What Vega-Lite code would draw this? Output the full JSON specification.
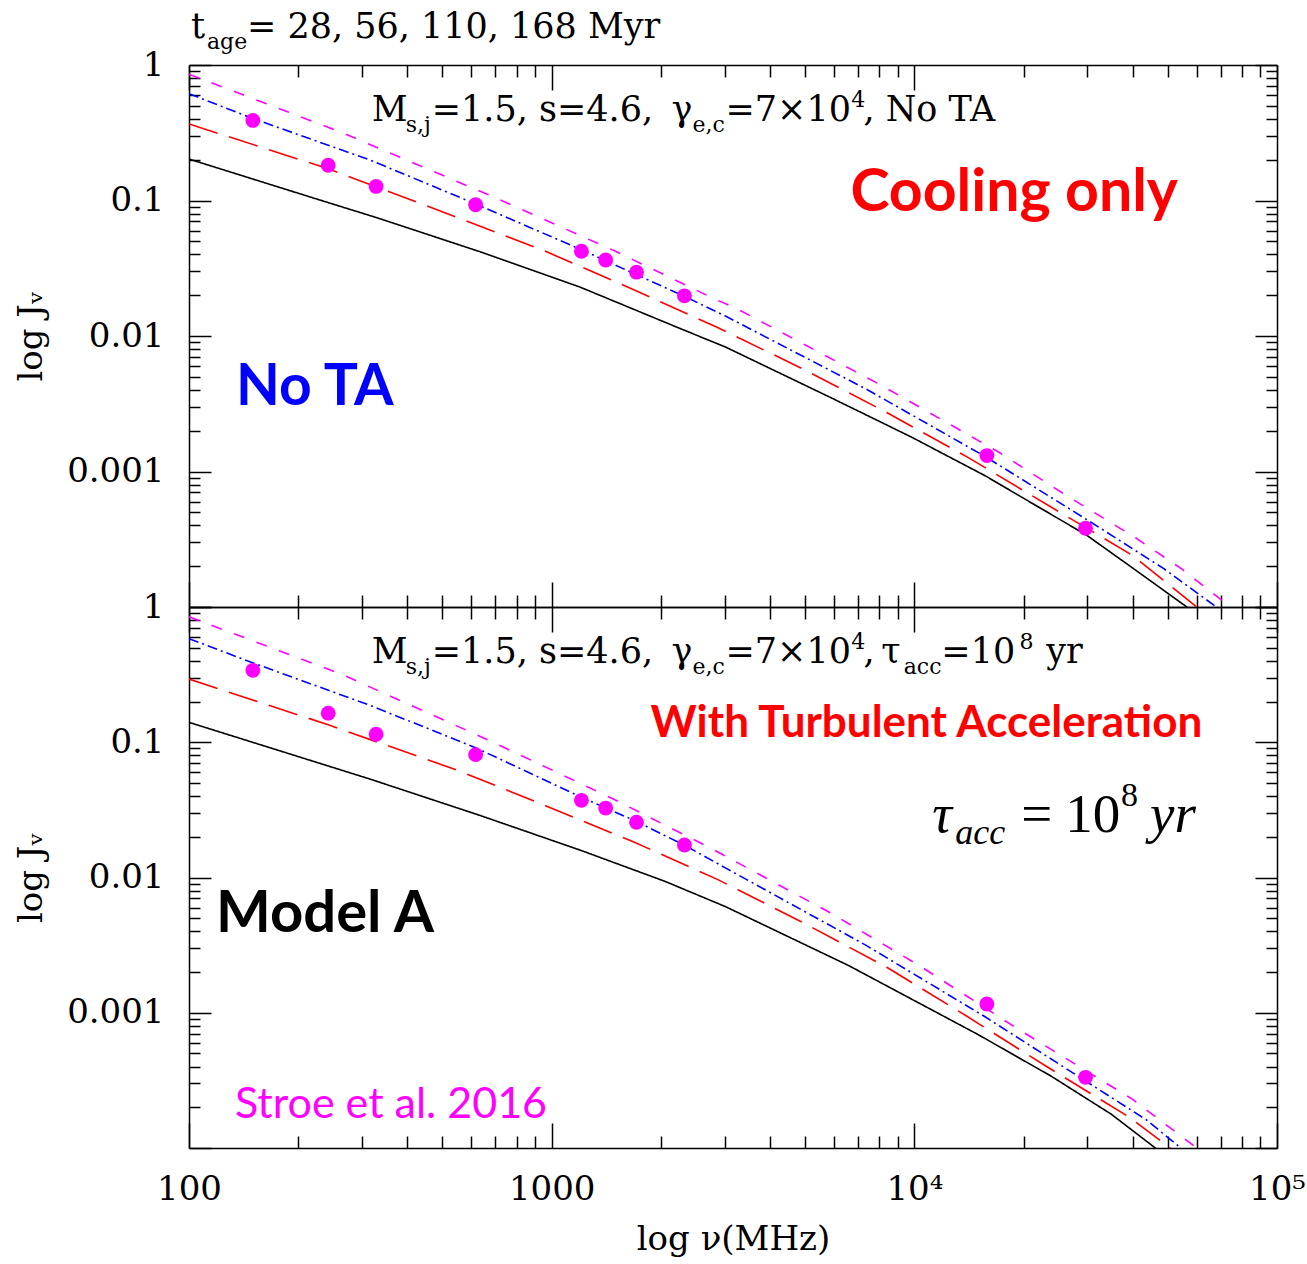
{
  "$schema": "https://vega.github.io/schema/vega-lite/v6.json",
  "background": "white",
  "padding": {"left": 14, "top": 10, "right": 5, "bottom": 5},
  "bounds": "flush",
  "spacing": 0,
  "config": {"view": {"stroke": null}},
  "datasets": {
    "curves": [
      {"panel": "top", "age": "28 Myr", "nu": 100, "J": 0.2023},
      {"panel": "top", "age": "28 Myr", "nu": 231.2, "J": 0.1002},
      {"panel": "top", "age": "28 Myr", "nu": 330.4, "J": 0.0745},
      {"panel": "top", "age": "28 Myr", "nu": 629.5, "J": 0.04217},
      {"panel": "top", "age": "28 Myr", "nu": 1202, "J": 0.02286},
      {"panel": "top", "age": "28 Myr", "nu": 2291, "J": 0.01119},
      {"panel": "top", "age": "28 Myr", "nu": 3013, "J": 0.008299},
      {"panel": "top", "age": "28 Myr", "nu": 5875, "J": 0.003516},
      {"panel": "top", "age": "28 Myr", "nu": 9817, "J": 0.001795},
      {"panel": "top", "age": "28 Myr", "nu": 15670, "J": 0.000931},
      {"panel": "top", "age": "28 Myr", "nu": 29850, "J": 0.000339},
      {"panel": "top", "age": "28 Myr", "nu": 38990, "J": 0.0002037},
      {"panel": "top", "age": "28 Myr", "nu": 56890, "J": 0.0000984},
      {"panel": "top", "age": "56 Myr", "nu": 100, "J": 0.3673},
      {"panel": "top", "age": "56 Myr", "nu": 242.1, "J": 0.1714},
      {"panel": "top", "age": "56 Myr", "nu": 544.5, "J": 0.07568},
      {"panel": "top", "age": "56 Myr", "nu": 961.6, "J": 0.04217},
      {"panel": "top", "age": "56 Myr", "nu": 1660, "J": 0.02234},
      {"panel": "top", "age": "56 Myr", "nu": 2858, "J": 0.01159},
      {"panel": "top", "age": "56 Myr", "nu": 4920, "J": 0.005728},
      {"panel": "top", "age": "56 Myr", "nu": 8395, "J": 0.002723},
      {"panel": "top", "age": "56 Myr", "nu": 14160, "J": 0.001256},
      {"panel": "top", "age": "56 Myr", "nu": 23880, "J": 0.0005445},
      {"panel": "top", "age": "56 Myr", "nu": 39900, "J": 0.000241},
      {"panel": "top", "age": "56 Myr", "nu": 60120, "J": 0.0000998},
      {"panel": "top", "age": "110 Myr", "nu": 100, "J": 0.6138},
      {"panel": "top", "age": "110 Myr", "nu": 150, "J": 0.4027},
      {"panel": "top", "age": "110 Myr", "nu": 316.2, "J": 0.1986},
      {"panel": "top", "age": "110 Myr", "nu": 616.6, "J": 0.09441},
      {"panel": "top", "age": "110 Myr", "nu": 1202, "J": 0.04355},
      {"panel": "top", "age": "110 Myr", "nu": 2339, "J": 0.01945},
      {"panel": "top", "age": "110 Myr", "nu": 3013, "J": 0.01403},
      {"panel": "top", "age": "110 Myr", "nu": 7345, "J": 0.004074},
      {"panel": "top", "age": "110 Myr", "nu": 15670, "J": 0.001291},
      {"panel": "top", "age": "110 Myr", "nu": 29850, "J": 0.0004426},
      {"panel": "top", "age": "110 Myr", "nu": 48750, "J": 0.0001919},
      {"panel": "top", "age": "110 Myr", "nu": 68080, "J": 0.0000998},
      {"panel": "top", "age": "168 Myr", "nu": 100, "J": 0.8551},
      {"panel": "top", "age": "168 Myr", "nu": 261.8, "J": 0.3199},
      {"panel": "top", "age": "168 Myr", "nu": 673, "J": 0.1096},
      {"panel": "top", "age": "168 Myr", "nu": 1500, "J": 0.04217},
      {"panel": "top", "age": "168 Myr", "nu": 2799, "J": 0.01888},
      {"panel": "top", "age": "168 Myr", "nu": 3258, "J": 0.01578},
      {"panel": "top", "age": "168 Myr", "nu": 8035, "J": 0.004385},
      {"panel": "top", "age": "168 Myr", "nu": 17100, "J": 0.001387},
      {"panel": "top", "age": "168 Myr", "nu": 26120, "J": 0.0006714},
      {"panel": "top", "age": "168 Myr", "nu": 40740, "J": 0.0003243},
      {"panel": "top", "age": "168 Myr", "nu": 54450, "J": 0.0001919},
      {"panel": "top", "age": "168 Myr", "nu": 73450, "J": 0.0001028},
      {"panel": "top", "age": "168 Myr", "nu": 76500, "J": 0.0000955},
      {"panel": "bottom", "age": "28 Myr", "nu": 100, "J": 0.1403},
      {"panel": "bottom", "age": "28 Myr", "nu": 316.2, "J": 0.05333},
      {"panel": "bottom", "age": "28 Myr", "nu": 631, "J": 0.02891},
      {"panel": "bottom", "age": "28 Myr", "nu": 1202, "J": 0.01589},
      {"panel": "bottom", "age": "28 Myr", "nu": 2051, "J": 0.009376},
      {"panel": "bottom", "age": "28 Myr", "nu": 3013, "J": 0.006095},
      {"panel": "bottom", "age": "28 Myr", "nu": 6577, "J": 0.002239},
      {"panel": "bottom", "age": "28 Myr", "nu": 14960, "J": 0.0006918},
      {"panel": "bottom", "age": "28 Myr", "nu": 23880, "J": 0.0003388},
      {"panel": "bottom", "age": "28 Myr", "nu": 34910, "J": 0.0001778},
      {"panel": "bottom", "age": "28 Myr", "nu": 46560, "J": 0.0000984},
      {"panel": "bottom", "age": "56 Myr", "nu": 100, "J": 0.2931},
      {"panel": "bottom", "age": "56 Myr", "nu": 242.1, "J": 0.1346},
      {"panel": "bottom", "age": "56 Myr", "nu": 552.1, "J": 0.0618},
      {"panel": "bottom", "age": "56 Myr", "nu": 961.6, "J": 0.03396},
      {"panel": "bottom", "age": "56 Myr", "nu": 1679, "J": 0.01837},
      {"panel": "bottom", "age": "56 Myr", "nu": 2864, "J": 0.009683},
      {"panel": "bottom", "age": "56 Myr", "nu": 4977, "J": 0.004581},
      {"panel": "bottom", "age": "56 Myr", "nu": 8395, "J": 0.002168},
      {"panel": "bottom", "age": "56 Myr", "nu": 14000, "J": 0.0009376},
      {"panel": "bottom", "age": "56 Myr", "nu": 23390, "J": 0.0003936},
      {"panel": "bottom", "age": "56 Myr", "nu": 38990, "J": 0.0001702},
      {"panel": "bottom", "age": "56 Myr", "nu": 50930, "J": 0.0000993},
      {"panel": "bottom", "age": "110 Myr", "nu": 100, "J": 0.5834},
      {"panel": "bottom", "age": "110 Myr", "nu": 151, "J": 0.3837},
      {"panel": "bottom", "age": "110 Myr", "nu": 316.2, "J": 0.1871},
      {"panel": "bottom", "age": "110 Myr", "nu": 616.6, "J": 0.0912},
      {"panel": "bottom", "age": "110 Myr", "nu": 1202, "J": 0.03945},
      {"panel": "bottom", "age": "110 Myr", "nu": 1714, "J": 0.02594},
      {"panel": "bottom", "age": "110 Myr", "nu": 2344, "J": 0.0171},
      {"panel": "bottom", "age": "110 Myr", "nu": 3013, "J": 0.01178},
      {"panel": "bottom", "age": "110 Myr", "nu": 7345, "J": 0.003162},
      {"panel": "bottom", "age": "110 Myr", "nu": 15670, "J": 0.0009333},
      {"panel": "bottom", "age": "110 Myr", "nu": 27930, "J": 0.0003467},
      {"panel": "bottom", "age": "110 Myr", "nu": 43550, "J": 0.0001622},
      {"panel": "bottom", "age": "110 Myr", "nu": 54450, "J": 0.0000993},
      {"panel": "bottom", "age": "168 Myr", "nu": 100, "J": 0.8453},
      {"panel": "bottom", "age": "168 Myr", "nu": 261.8, "J": 0.3206},
      {"panel": "bottom", "age": "168 Myr", "nu": 674.5, "J": 0.1028},
      {"panel": "bottom", "age": "168 Myr", "nu": 1469, "J": 0.03837},
      {"panel": "bottom", "age": "168 Myr", "nu": 2735, "J": 0.01656},
      {"panel": "bottom", "age": "168 Myr", "nu": 5875, "J": 0.00547},
      {"panel": "bottom", "age": "168 Myr", "nu": 10500, "J": 0.002168},
      {"panel": "bottom", "age": "168 Myr", "nu": 19140, "J": 0.0007691},
      {"panel": "bottom", "age": "168 Myr", "nu": 39900, "J": 0.0002296},
      {"panel": "bottom", "age": "168 Myr", "nu": 60260, "J": 0.0000993}
    ],
    "obs": [
      {"panel": "top", "nu": 150, "J": 0.39},
      {"panel": "top", "nu": 242, "J": 0.182},
      {"panel": "top", "nu": 328, "J": 0.127},
      {"panel": "top", "nu": 617, "J": 0.093},
      {"panel": "top", "nu": 1208, "J": 0.0422},
      {"panel": "top", "nu": 1409, "J": 0.0364},
      {"panel": "top", "nu": 1714, "J": 0.0296},
      {"panel": "top", "nu": 2323, "J": 0.0198},
      {"panel": "top", "nu": 15850, "J": 0.00131},
      {"panel": "top", "nu": 29650, "J": 0.000381},
      {"panel": "bottom", "nu": 150, "J": 0.34},
      {"panel": "bottom", "nu": 242, "J": 0.164},
      {"panel": "bottom", "nu": 328, "J": 0.1146},
      {"panel": "bottom", "nu": 617, "J": 0.081},
      {"panel": "bottom", "nu": 1208, "J": 0.0372},
      {"panel": "bottom", "nu": 1409, "J": 0.0326},
      {"panel": "bottom", "nu": 1714, "J": 0.0256},
      {"panel": "bottom", "nu": 2323, "J": 0.0174},
      {"panel": "bottom", "nu": 15850, "J": 0.00116},
      {"panel": "bottom", "nu": 29650, "J": 0.000333}
    ]
  },
  "vconcat": [
    {
      "width": 1088,
      "height": 542,
      "resolve": {"axis": {"x": "independent", "y": "independent"}},
      "layer": [
        {
          "data": {"name": "curves"},
          "transform": [{"filter": "datum.panel === 'top'"}],
          "mark": {"type": "line", "clip": true, "strokeWidth": 1.6},
          "encoding": {
            "x": {"field": "nu", "type": "quantitative", "scale": {"type": "log", "domain": [100, 100000], "nice": false},
              "axis": {"orient": "bottom", "values": [100,200,300,400,500,600,700,800,900,1000,2000,3000,4000,5000,6000,7000,8000,9000,10000,20000,30000,40000,50000,60000,70000,80000,90000,100000],
                "tickSize": {"condition": {"test": "indexof([100,1000,10000,100000], datum.value) >= 0", "value": -25}, "value": -12},
                "tickColor": "black", "tickWidth": 1.5, "domainColor": "black", "domainWidth": 1.5, "grid": false, "labels": false, "title": null}},
            "y": {"field": "J", "type": "quantitative", "scale": {"type": "log", "domain": [0.0001, 1], "nice": false},
              "axis": {"orient": "left", "values": [0.0001,0.0002,0.0003,0.0004,0.0005,0.0006,0.0007,0.0008,0.0009,0.001,0.002,0.003,0.004,0.005,0.006,0.007,0.008,0.009,0.01,0.02,0.03,0.04,0.05,0.06,0.07,0.08,0.09,0.1,0.2,0.3,0.4,0.5,0.6,0.7,0.8,0.9,1],
                "tickSize": {"condition": {"test": "indexof([1,0.1,0.01,0.001,0.0001], datum.value) >= 0", "value": -22}, "value": -11},
                "tickColor": "black", "tickWidth": 1.5, "domainColor": "black", "domainWidth": 1.5, "grid": false,
                "labelExpr": "datum.value === 1 ? '1' : datum.value === 0.1 ? '0.1' : datum.value === 0.01 ? '0.01' : datum.value === 0.001 ? '0.001' : ''",
                "labelFont": "DejaVu Serif", "labelFontSize": 34, "labelColor": "black", "labelPadding": 47,
                "labelOverlap": false, "labelBound": false, "labelFlush": false,
                "title": "log Jᵥ", "titleFont": "DejaVu Serif", "titleFontSize": 34, "titleFontWeight": "normal", "titleColor": "black", "titlePadding": 18}},
            "color": {"field": "age", "type": "nominal", "scale": {"domain": ["28 Myr", "56 Myr", "110 Myr", "168 Myr"], "range": ["#000000", "#FF0000", "#0000FF", "#FF00FF"]}, "legend": null},
            "strokeDash": {"field": "age", "type": "nominal", "scale": {"domain": ["28 Myr", "56 Myr", "110 Myr", "168 Myr"], "range": [[1, 0], [30, 12], [10, 4, 2, 4], [11, 13]]}, "legend": null}
          }
        },
        {
          "data": {"name": "obs"},
          "transform": [{"filter": "datum.panel === 'top'"}],
          "mark": {"type": "point", "filled": true, "shape": "circle", "size": 220, "color": "#FF00FF", "opacity": 1},
          "encoding": {
            "x": {"field": "nu", "type": "quantitative", "scale": {"type": "log"},
              "axis": {"orient": "top", "values": [100,200,300,400,500,600,700,800,900,1000,2000,3000,4000,5000,6000,7000,8000,9000,10000,20000,30000,40000,50000,60000,70000,80000,90000,100000],
                "tickSize": {"condition": {"test": "indexof([100,1000,10000,100000], datum.value) >= 0", "value": -25}, "value": -12},
                "tickColor": "black", "tickWidth": 1.5, "domainColor": "black", "domainWidth": 1.5, "grid": false, "labels": false, "title": null}},
            "y": {"field": "J", "type": "quantitative", "scale": {"type": "log"},
              "axis": {"orient": "right", "values": [0.0001,0.0002,0.0003,0.0004,0.0005,0.0006,0.0007,0.0008,0.0009,0.001,0.002,0.003,0.004,0.005,0.006,0.007,0.008,0.009,0.01,0.02,0.03,0.04,0.05,0.06,0.07,0.08,0.09,0.1,0.2,0.3,0.4,0.5,0.6,0.7,0.8,0.9,1],
                "tickSize": {"condition": {"test": "indexof([1,0.1,0.01,0.001,0.0001], datum.value) >= 0", "value": -22}, "value": -11},
                "tickColor": "black", "tickWidth": 1.5, "domainColor": "black", "domainWidth": 1.5, "grid": false, "labels": false, "title": null}}
          }
        },
        {
          "data": {"values": [
            {"nu": 101.3, "J": 1.578, "t": "t"},
            {"nu": 144.5, "J": 1.578, "t": "= 28, 56, 110, 168 Myr"},
            {"nu": 319.3, "J": 0.385, "t": "M"},
            {"nu": 467.1, "J": 0.385, "t": "=1.5, s=4.6,"},
            {"nu": 2141, "J": 0.385, "t": "γ"},
            {"nu": 3015, "J": 0.385, "t": "=7×10"},
            {"nu": 7237, "J": 0.385, "t": ", No TA"}
          ]},
          "mark": {"type": "text", "align": "left", "baseline": "alphabetic", "font": "DejaVu Serif", "fontSize": 35, "color": "black"},
          "encoding": {
            "x": {"field": "nu", "type": "quantitative", "scale": {"type": "log"}, "axis": null},
            "y": {"field": "J", "type": "quantitative", "scale": {"type": "log"}, "axis": null},
            "text": {"field": "t"}
          }
        },
        {
          "data": {"values": [
            {"nu": 112.1, "J": 1.578, "t": "age"},
            {"nu": 396.1, "J": 0.385, "t": "s,j"},
            {"nu": 2446, "J": 0.385, "t": "e,c"}
          ]},
          "mark": {"type": "text", "align": "left", "baseline": "alphabetic", "font": "DejaVu Serif", "fontSize": 22, "dy": 11, "color": "black"},
          "encoding": {
            "x": {"field": "nu", "type": "quantitative", "scale": {"type": "log"}, "axis": null},
            "y": {"field": "J", "type": "quantitative", "scale": {"type": "log"}, "axis": null},
            "text": {"field": "t"}
          }
        },
        {
          "data": {"values": [{"nu": 6705, "J": 0.385, "t": "4"}]},
          "mark": {"type": "text", "align": "left", "baseline": "alphabetic", "font": "DejaVu Serif", "fontSize": 22, "dy": -14, "color": "black"},
          "encoding": {
            "x": {"field": "nu", "type": "quantitative", "scale": {"type": "log"}, "axis": null},
            "y": {"field": "J", "type": "quantitative", "scale": {"type": "log"}, "axis": null},
            "text": {"field": "t"}
          }
        },
        {
          "data": {"values": [{"nu": 6663, "J": 0.0835, "t": "Cooling only"}]},
          "mark": {"type": "text", "align": "left", "baseline": "alphabetic", "font": "Lato", "fontWeight": "bold", "fontSize": 59, "color": "#FF0000"},
          "encoding": {
            "x": {"field": "nu", "type": "quantitative", "scale": {"type": "log"}, "axis": null},
            "y": {"field": "J", "type": "quantitative", "scale": {"type": "log"}, "axis": null},
            "text": {"field": "t"}
          }
        },
        {
          "data": {"values": [{"nu": 134.7, "J": 0.00307, "t": "No TA"}]},
          "mark": {"type": "text", "align": "left", "baseline": "alphabetic", "font": "Lato", "fontWeight": "bold", "fontSize": 57, "color": "#0000FF"},
          "encoding": {
            "x": {"field": "nu", "type": "quantitative", "scale": {"type": "log"}, "axis": null},
            "y": {"field": "J", "type": "quantitative", "scale": {"type": "log"}, "axis": null},
            "text": {"field": "t"}
          }
        }
      ]
    },
    {
      "width": 1088,
      "height": 541,
      "resolve": {"axis": {"x": "independent", "y": "independent"}},
      "layer": [
        {
          "data": {"name": "curves"},
          "transform": [{"filter": "datum.panel === 'bottom'"}],
          "mark": {"type": "line", "clip": true, "strokeWidth": 1.6},
          "encoding": {
            "x": {"field": "nu", "type": "quantitative", "scale": {"type": "log", "domain": [100, 100000], "nice": false},
              "axis": {"orient": "bottom", "values": [100,200,300,400,500,600,700,800,900,1000,2000,3000,4000,5000,6000,7000,8000,9000,10000,20000,30000,40000,50000,60000,70000,80000,90000,100000],
                "tickSize": {"condition": {"test": "indexof([100,1000,10000,100000], datum.value) >= 0", "value": -25}, "value": -12},
                "tickColor": "black", "tickWidth": 1.5, "domainColor": "black", "domainWidth": 1.5, "grid": false,
                "labelExpr": "datum.value === 100 ? '100' : datum.value === 1000 ? '1000' : datum.value === 10000 ? '10⁴' : datum.value === 100000 ? '10⁵' : ''",
                "labelFont": "DejaVu Serif", "labelFontSize": 34, "labelColor": "black", "labelPadding": 49,
                "labelOverlap": false, "labelBound": false, "labelFlush": false,
                "title": "log ν(MHz)", "titleFont": "DejaVu Serif", "titleFontSize": 34, "titleFontWeight": "normal", "titleColor": "black", "titlePadding": 3}},
            "y": {"field": "J", "type": "quantitative", "scale": {"type": "log", "domain": [0.0001, 1], "nice": false},
              "axis": {"orient": "left", "values": [0.0001,0.0002,0.0003,0.0004,0.0005,0.0006,0.0007,0.0008,0.0009,0.001,0.002,0.003,0.004,0.005,0.006,0.007,0.008,0.009,0.01,0.02,0.03,0.04,0.05,0.06,0.07,0.08,0.09,0.1,0.2,0.3,0.4,0.5,0.6,0.7,0.8,0.9,1],
                "tickSize": {"condition": {"test": "indexof([1,0.1,0.01,0.001,0.0001], datum.value) >= 0", "value": -22}, "value": -11},
                "tickColor": "black", "tickWidth": 1.5, "domainColor": "black", "domainWidth": 1.5, "grid": false,
                "labelExpr": "datum.value === 1 ? '1' : datum.value === 0.1 ? '0.1' : datum.value === 0.01 ? '0.01' : datum.value === 0.001 ? '0.001' : ''",
                "labelFont": "DejaVu Serif", "labelFontSize": 34, "labelColor": "black", "labelPadding": 47,
                "labelOverlap": false, "labelBound": false, "labelFlush": false,
                "title": "log Jᵥ", "titleFont": "DejaVu Serif", "titleFontSize": 34, "titleFontWeight": "normal", "titleColor": "black", "titlePadding": 18}},
            "color": {"field": "age", "type": "nominal", "scale": {"domain": ["28 Myr", "56 Myr", "110 Myr", "168 Myr"], "range": ["#000000", "#FF0000", "#0000FF", "#FF00FF"]}, "legend": null},
            "strokeDash": {"field": "age", "type": "nominal", "scale": {"domain": ["28 Myr", "56 Myr", "110 Myr", "168 Myr"], "range": [[1, 0], [30, 12], [10, 4, 2, 4], [11, 13]]}, "legend": null}
          }
        },
        {
          "data": {"name": "obs"},
          "transform": [{"filter": "datum.panel === 'bottom'"}],
          "mark": {"type": "point", "filled": true, "shape": "circle", "size": 220, "color": "#FF00FF", "opacity": 1},
          "encoding": {
            "x": {"field": "nu", "type": "quantitative", "scale": {"type": "log"},
              "axis": {"orient": "top", "values": [100,200,300,400,500,600,700,800,900,1000,2000,3000,4000,5000,6000,7000,8000,9000,10000,20000,30000,40000,50000,60000,70000,80000,90000,100000],
                "tickSize": {"condition": {"test": "indexof([100,1000,10000,100000], datum.value) >= 0", "value": -25}, "value": -12},
                "tickColor": "black", "tickWidth": 1.5, "domainColor": "black", "domainWidth": 1.5, "grid": false, "labels": false, "title": null}},
            "y": {"field": "J", "type": "quantitative", "scale": {"type": "log"},
              "axis": {"orient": "right", "values": [0.0001,0.0002,0.0003,0.0004,0.0005,0.0006,0.0007,0.0008,0.0009,0.001,0.002,0.003,0.004,0.005,0.006,0.007,0.008,0.009,0.01,0.02,0.03,0.04,0.05,0.06,0.07,0.08,0.09,0.1,0.2,0.3,0.4,0.5,0.6,0.7,0.8,0.9,1],
                "tickSize": {"condition": {"test": "indexof([1,0.1,0.01,0.001,0.0001], datum.value) >= 0", "value": -22}, "value": -11},
                "tickColor": "black", "tickWidth": 1.5, "domainColor": "black", "domainWidth": 1.5, "grid": false, "labels": false, "title": null}}
          }
        },
        {
          "data": {"values": [
            {"nu": 319.3, "J": 0.388, "t": "M"},
            {"nu": 467.1, "J": 0.388, "t": "=1.5, s=4.6,"},
            {"nu": 2141, "J": 0.388, "t": "γ"},
            {"nu": 3015, "J": 0.388, "t": "=7×10"},
            {"nu": 7237, "J": 0.388, "t": ","},
            {"nu": 8110, "J": 0.388, "t": "τ"},
            {"nu": 11870, "J": 0.388, "t": "=10"},
            {"nu": 23100, "J": 0.388, "t": "yr"}
          ]},
          "mark": {"type": "text", "align": "left", "baseline": "alphabetic", "font": "DejaVu Serif", "fontSize": 35, "color": "black"},
          "encoding": {
            "x": {"field": "nu", "type": "quantitative", "scale": {"type": "log"}, "axis": null},
            "y": {"field": "J", "type": "quantitative", "scale": {"type": "log"}, "axis": null},
            "text": {"field": "t"}
          }
        },
        {
          "data": {"values": [
            {"nu": 396.1, "J": 0.388, "t": "s,j"},
            {"nu": 2446, "J": 0.388, "t": "e,c"},
            {"nu": 9350, "J": 0.388, "t": "acc"}
          ]},
          "mark": {"type": "text", "align": "left", "baseline": "alphabetic", "font": "DejaVu Serif", "fontSize": 22, "dy": 11, "color": "black"},
          "encoding": {
            "x": {"field": "nu", "type": "quantitative", "scale": {"type": "log"}, "axis": null},
            "y": {"field": "J", "type": "quantitative", "scale": {"type": "log"}, "axis": null},
            "text": {"field": "t"}
          }
        },
        {
          "data": {"values": [
            {"nu": 6705, "J": 0.388, "t": "4"},
            {"nu": 19500, "J": 0.388, "t": "8"}
          ]},
          "mark": {"type": "text", "align": "left", "baseline": "alphabetic", "font": "DejaVu Serif", "fontSize": 22, "dy": -14, "color": "black"},
          "encoding": {
            "x": {"field": "nu", "type": "quantitative", "scale": {"type": "log"}, "axis": null},
            "y": {"field": "J", "type": "quantitative", "scale": {"type": "log"}, "axis": null},
            "text": {"field": "t"}
          }
        },
        {
          "data": {"values": [{"nu": 1874, "J": 0.1089, "t": "With Turbulent Acceleration"}]},
          "mark": {"type": "text", "align": "left", "baseline": "alphabetic", "font": "Lato", "fontWeight": "bold", "fontSize": 44, "color": "#FF0000"},
          "encoding": {
            "x": {"field": "nu", "type": "quantitative", "scale": {"type": "log"}, "axis": null},
            "y": {"field": "J", "type": "quantitative", "scale": {"type": "log"}, "axis": null},
            "text": {"field": "t"}
          }
        },
        {
          "data": {"values": [
            {"nu": 11209, "J": 0.02168, "t": "τ"},
            {"nu": 44680, "J": 0.02168, "t": "yr"}
          ]},
          "mark": {"type": "text", "align": "left", "baseline": "alphabetic", "font": "Liberation Serif", "fontStyle": "italic", "fontSize": 55, "color": "black"},
          "encoding": {
            "x": {"field": "nu", "type": "quantitative", "scale": {"type": "log"}, "axis": null},
            "y": {"field": "J", "type": "quantitative", "scale": {"type": "log"}, "axis": null},
            "text": {"field": "t"}
          }
        },
        {
          "data": {"values": [
            {"nu": 19713, "J": 0.02168, "t": "="},
            {"nu": 26066, "J": 0.02168, "t": "10"}
          ]},
          "mark": {"type": "text", "align": "left", "baseline": "alphabetic", "font": "Liberation Serif", "fontSize": 55, "color": "black"},
          "encoding": {
            "x": {"field": "nu", "type": "quantitative", "scale": {"type": "log"}, "axis": null},
            "y": {"field": "J", "type": "quantitative", "scale": {"type": "log"}, "axis": null},
            "text": {"field": "t"}
          }
        },
        {
          "data": {"values": [{"nu": 12970, "J": 0.02168, "t": "acc"}]},
          "mark": {"type": "text", "align": "left", "baseline": "alphabetic", "font": "Liberation Serif", "fontStyle": "italic", "fontSize": 36, "dy": 12, "color": "black"},
          "encoding": {
            "x": {"field": "nu", "type": "quantitative", "scale": {"type": "log"}, "axis": null},
            "y": {"field": "J", "type": "quantitative", "scale": {"type": "log"}, "axis": null},
            "text": {"field": "t"}
          }
        },
        {
          "data": {"values": [{"nu": 37170, "J": 0.02168, "t": "8"}]},
          "mark": {"type": "text", "align": "left", "baseline": "alphabetic", "font": "Liberation Serif", "fontSize": 34, "dy": -26, "color": "black"},
          "encoding": {
            "x": {"field": "nu", "type": "quantitative", "scale": {"type": "log"}, "axis": null},
            "y": {"field": "J", "type": "quantitative", "scale": {"type": "log"}, "axis": null},
            "text": {"field": "t"}
          }
        },
        {
          "data": {"values": [{"nu": 118.7, "J": 0.003944, "t": "Model A"}]},
          "mark": {"type": "text", "align": "left", "baseline": "alphabetic", "font": "Lato", "fontWeight": "bold", "fontSize": 58, "color": "#000000"},
          "encoding": {
            "x": {"field": "nu", "type": "quantitative", "scale": {"type": "log"}, "axis": null},
            "y": {"field": "J", "type": "quantitative", "scale": {"type": "log"}, "axis": null},
            "text": {"field": "t"}
          }
        },
        {
          "data": {"values": [{"nu": 133.9, "J": 0.0001655, "t": "Stroe et al. 2016"}]},
          "mark": {"type": "text", "align": "left", "baseline": "alphabetic", "font": "Lato", "fontSize": 43, "color": "#FF00FF"},
          "encoding": {
            "x": {"field": "nu", "type": "quantitative", "scale": {"type": "log"}, "axis": null},
            "y": {"field": "J", "type": "quantitative", "scale": {"type": "log"}, "axis": null},
            "text": {"field": "t"}
          }
        }
      ]
    }
  ]
}
